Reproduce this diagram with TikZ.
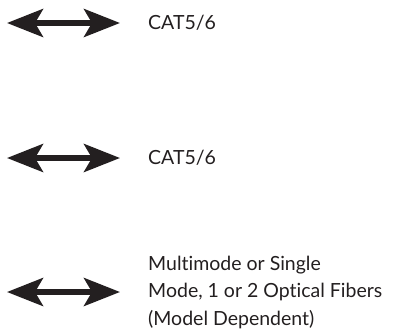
\documentclass[tikz,border=0pt]{standalone}
\usepackage{fontspec}
\setmainfont{Lato}[Ligatures=NoCommon]
\usetikzlibrary{arrows.meta,positioning}
\definecolor{ink}{HTML}{231F20}
\tikzset{
    link/.style={
        draw=ink,
        line width=5.5pt,
        {Stealth[length=36pt,width=28pt,inset=8pt]}-{Stealth[length=36pt,width=28pt,inset=8pt]}
    },
    cable/.style={
        text=ink,
        anchor=west,
        inner sep=0pt,
        align=left,
        font=\fontsize{19.5}{27.5}\selectfont
    }
}
\begin{document}
\begin{tikzpicture}[x=1pt,y=-1pt]
    \useasboundingbox (0,0) rectangle (417,332);

    \coordinate (l1) at (7,23);
    \coordinate (r1) at (120,23);
    \coordinate (l2) at (7,158);
    \coordinate (r2) at (120,158);
    \coordinate (l3) at (7,292);
    \coordinate (r3) at (120,292);

    % copper links
    \draw[link] (l1) -- (r1);
    \node[cable,right=28pt of r1] (cat1) {CAT5/6};
    \draw[link] (l2) -- (r2);
    \node[cable,right=28pt of r2] (cat2) {CAT5/6};

    % fiber link
    \draw[link] (l3) -- (r3);
    \node[cable,right=28pt of r3] (fiber) {Multimode or Single\\Mode, 1 or 2 Optical Fibers\\(Model Dependent)};
\end{tikzpicture}
\end{document}
